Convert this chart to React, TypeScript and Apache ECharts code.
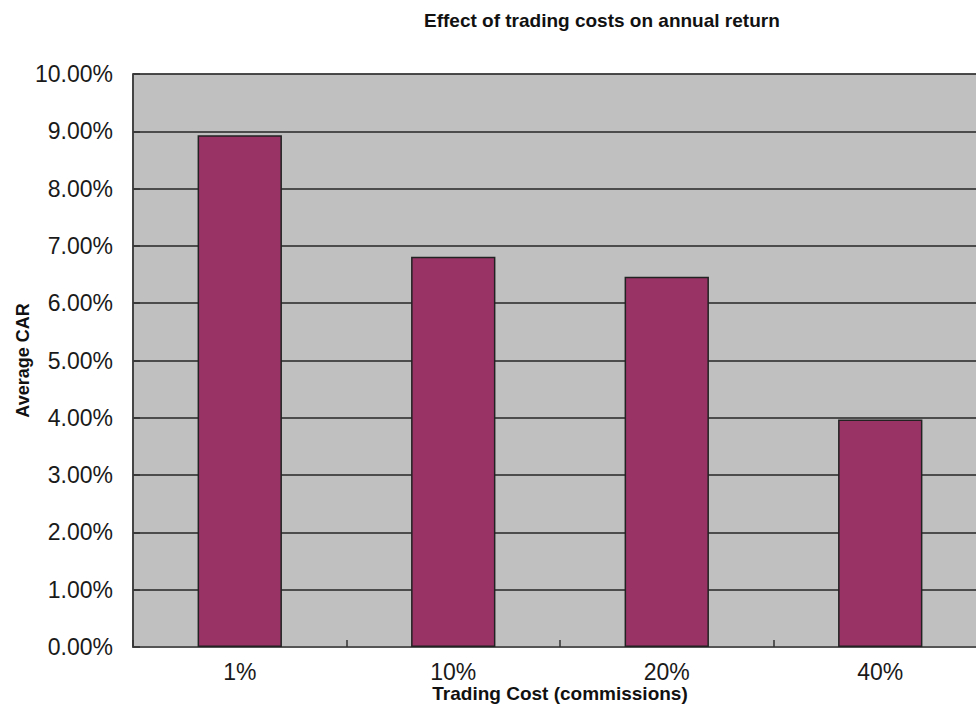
import React, { useEffect, useRef } from "react";
import * as echarts from "echarts";

// Trading cost scenarios and the average compound annual return for each (in %)
const categories = ["1%", "10%", "20%", "40%"];
const averageCar = [8.93, 6.81, 6.46, 3.97];
const yMin = 0;
const yMax = 10;
const yStep = 1;

const titleText = "Effect of trading costs on annual return";
const xAxisName = "Trading Cost (commissions)";
const yAxisName = "Average CAR";

export default function App() {
  const ref = useRef<HTMLDivElement>(null);

  useEffect(() => {
    if (!ref.current) return;
    const chart = echarts.init(ref.current, undefined, { renderer: "svg" });
    const font = "'Liberation Sans', Arial, sans-serif";
    chart.setOption({
      animation: false,
      backgroundColor: "#ffffff",
      title: {
        text: titleText,
        left: 419,
        top: 6,
        textStyle: {
          fontFamily: font,
          fontWeight: "bold",
          fontSize: 19,
          color: "#111",
        },
      },
      grid: {
        left: 133,
        top: 74,
        right: 13,
        bottom: 62,
        containLabel: false,
        outerBoundsMode: "none",
        show: true,
        backgroundColor: "#c0c0c0",
        borderColor: "#808080",
        borderWidth: 1,
      },
      xAxis: {
        type: "category",
        data: categories,
        name: xAxisName,
        nameLocation: "middle",
        nameGap: 37,
        nameMoveOverlap: false,
        nameTextStyle: {
          fontFamily: font,
          fontWeight: "bold",
          fontSize: 19,
          color: "#111",
        },
        axisLine: { show: true, lineStyle: { color: "#555", width: 2 } },
        axisTick: {
          show: true,
          inside: true,
          length: 7,
          lineStyle: { color: "#333", width: 1.5 },
        },
        axisLabel: {
          fontFamily: font,
          fontSize: 23,
          color: "#1a1a1a",
          margin: 13,
        },
        splitLine: { show: false },
      },
      yAxis: {
        type: "value",
        min: yMin,
        max: yMax,
        interval: yStep,
        name: yAxisName,
        nameLocation: "middle",
        nameGap: 101,
        nameMoveOverlap: false,
        nameTextStyle: {
          fontFamily: font,
          fontWeight: "bold",
          fontSize: 18,
          color: "#111",
        },
        axisLine: { show: true, lineStyle: { color: "#444", width: 2 } },
        axisTick: {
          show: true,
          inside: true,
          length: 7,
          lineStyle: { color: "#333", width: 1.5 },
        },
        axisLabel: {
          fontFamily: font,
          fontSize: 23,
          color: "#1a1a1a",
          margin: 20,
          formatter: (v: number) => v.toFixed(2) + "%",
        },
        splitLine: {
          show: true,
          lineStyle: { color: "#262626", width: 1.6 },
        },
      },
      series: [
        {
          type: "bar",
          data: averageCar,
          barWidth: "39.5%",
          itemStyle: {
            color: "#993366",
            borderColor: "#222",
            borderWidth: 1.5,
          },
        },
      ],
    });
    return () => chart.dispose();
  }, []);

  return (
    <div
      style={{
        position: "fixed",
        left: 0,
        top: 0,
        width: 976,
        height: 709,
        overflow: "hidden",
        background: "#fff",
      }}
    >
      <div ref={ref} style={{ width: 1000, height: 709 }} />
    </div>
  );
}
